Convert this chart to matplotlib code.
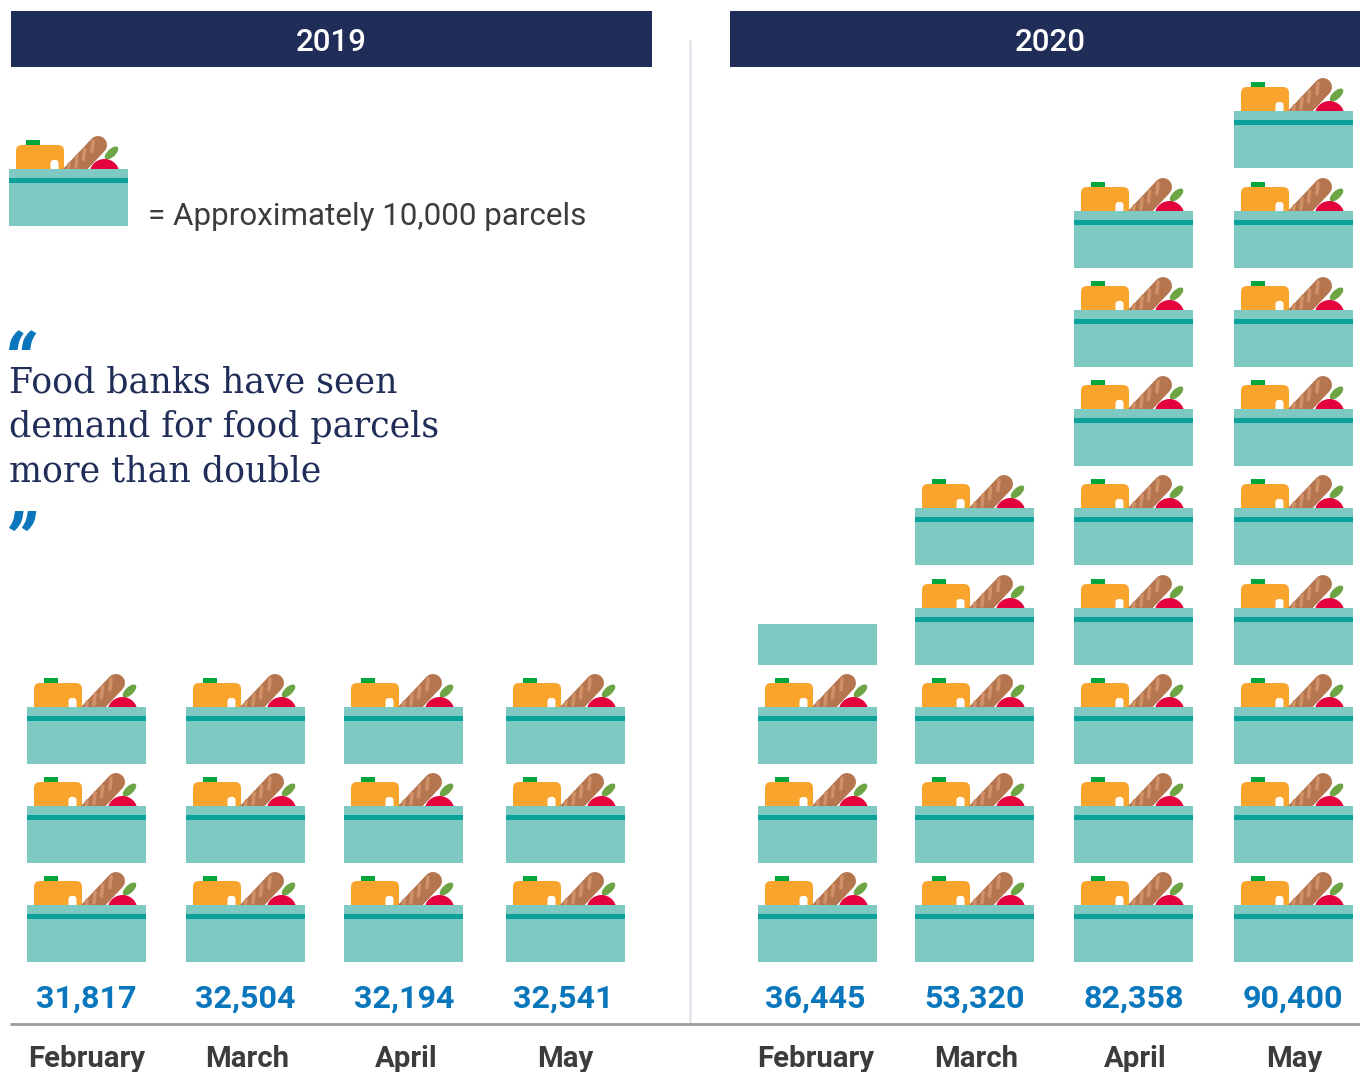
import math
import matplotlib
matplotlib.use("Agg")
import matplotlib.pyplot as plt
from matplotlib.patches import Rectangle, Circle, Ellipse, FancyBboxPatch

# data
years = ["2019", "2020"]
months = ["February", "March", "April", "May"]
parcels_2019 = [31817, 32504, 32194, 32541]
parcels_2020 = [36445, 53320, 82358, 90400]
icons_2019 = [3, 3, 3, 3]
icons_2020 = [3, 5, 8, 9]
partial_2020 = [0.72, 0, 0, 0]
legend_text = "= Approximately 10,000 parcels"
quote_lines = ["Food banks have seen", "demand for food parcels", "more than double"]

# colours
NAVY = "#202D58"
BLUE = "#0A76BC"
GREY_TEXT = "#3C3C3B"
BOX = "#7FC9C3"
STRIPE = "#0AA19A"
ORANGE = "#F9A42D"
GREEN = "#00A53C"
BREAD = "#B5754F"
CRUMB = "#D09169"
APPLE = "#E4003D"
LEAF = "#6DA544"

BOX_W = 119
BOX_H = 57
ROW_STEP = 99.25
BASE_Y = 905
COLS_2019 = [27, 186, 344, 506]
COLS_2020 = [758, 915, 1074, 1234]
VALUE_X_2019 = [86.5, 245.5, 404, 563.5]
VALUE_X_2020 = [815.5, 975, 1133.5, 1293]
MONTH_X_2019 = [87, 247, 406, 565]
MONTH_X_2020 = [816, 976, 1135, 1294]

plt.rcParams["font.family"] = ["Roboto", "DejaVu Sans"]

fig = plt.figure(figsize=(13.6, 10.72), dpi=100)
ax = fig.add_axes([0, 0, 1, 1])
ax.set_xlim(0, 1360)
ax.set_ylim(1072, 0)
ax.axis("off")


def draw_parcel(x, y):
    # x, y = top left corner of the teal box, food sits behind it
    ax.add_patch(Rectangle((x + 17, y - 29), 14, 6, fc=GREEN, ec="none", zorder=2))
    ax.add_patch(FancyBboxPatch((x + 11, y - 20), 40, 30, boxstyle="round,pad=4,rounding_size=6",
                                fc=ORANGE, ec="none", zorder=3))
    ax.add_patch(FancyBboxPatch((x + 44, y - 6.5), 3, 10, boxstyle="round,pad=2.5,rounding_size=3",
                                fc="white", ec="none", zorder=4))
    ax.plot([x + 56, x + 89], [y + 11, y - 24], color=BREAD, lw=18 * 0.72,
            solid_capstyle="round", zorder=3)
    for cx, y0, y1 in [(59.5, -5, 4), (67.5, -13, -2), (75, -20, -9), (83.5, -28, -17)]:
        ax.plot([x + cx - 0.6, x + cx + 0.6], [y + y1, y + y0], color=CRUMB, lw=3.5 * 0.72,
                solid_capstyle="round", zorder=4)
    ax.add_patch(Ellipse((x + 102.5, y - 16), 17, 8, angle=-43, fc=LEAF, ec="none", zorder=3))
    ax.add_patch(Circle((x + 95.5, y + 5), 15, fc=APPLE, ec="none", zorder=3))
    ax.add_patch(Rectangle((x, y), BOX_W, BOX_H, fc=BOX, ec="none", zorder=5))
    ax.add_patch(Rectangle((x, y + 9), BOX_W, 5, fc=STRIPE, ec="none", zorder=6))


def draw_column(x, n_icons, partial):
    for i in range(n_icons):
        draw_parcel(x, math.ceil(BASE_Y - i * ROW_STEP))
    if partial:
        # cut down box on top of the stack, no food on it
        top = math.ceil(BASE_Y - n_icons * ROW_STEP)
        h = BOX_H * partial
        ax.add_patch(Rectangle((x, top + BOX_H - h), BOX_W, h, fc=BOX, ec="none", zorder=5))


# year headers
for label, x0, x1, tx in [(years[0], 11, 652, 331), (years[1], 730, 1360, 1050)]:
    ax.add_patch(Rectangle((x0, 11), x1 - x0, 56, fc=NAVY, ec="none"))
    ax.text(tx, 42.5, label, color="white", fontsize=22.5, fontweight="medium", ha="center", va="center")

# divider and baseline
ax.plot([690, 690], [40, 1023], color="#E3E6EC", lw=2, solid_capstyle="butt")
ax.plot([10, 1360], [1024, 1024], color="#9A9C9C", lw=2, solid_capstyle="butt", zorder=7)

# legend
draw_parcel(9, 169)
ax.text(148, 216.5, legend_text, color=GREY_TEXT, fontsize=22.6, ha="left", va="center")

# quote
ax.text(2, 390, "\u201C", color=BLUE, fontsize=56, fontweight="bold", style="italic",
        ha="left", va="baseline")
for line, y in zip(quote_lines, [382.5, 427, 471]):
    ax.text(9, y, line, color=NAVY, fontsize=25, family=["DejaVu Serif"], ha="left", va="center")
ax.text(2, 569, "\u201D", color=BLUE, fontsize=56, fontweight="bold", style="italic",
        ha="left", va="baseline")

# stacks
for x, n in zip(COLS_2019, icons_2019):
    draw_column(x, n, 0)
for x, n, p in zip(COLS_2020, icons_2020, partial_2020):
    draw_column(x, n, p)

# value and month labels
for vx, mx, v, m in zip(VALUE_X_2019 + VALUE_X_2020, MONTH_X_2019 + MONTH_X_2020,
                        parcels_2019 + parcels_2020, months + months):
    ax.text(vx, 999, f"{v:,}", color=BLUE, fontsize=23.2, fontweight="bold", ha="center", va="center")
    ax.text(mx, 1059, m, color=GREY_TEXT, fontsize=21.2, fontweight="bold", ha="center", va="center")

fig.savefig("out.png", dpi=100)
